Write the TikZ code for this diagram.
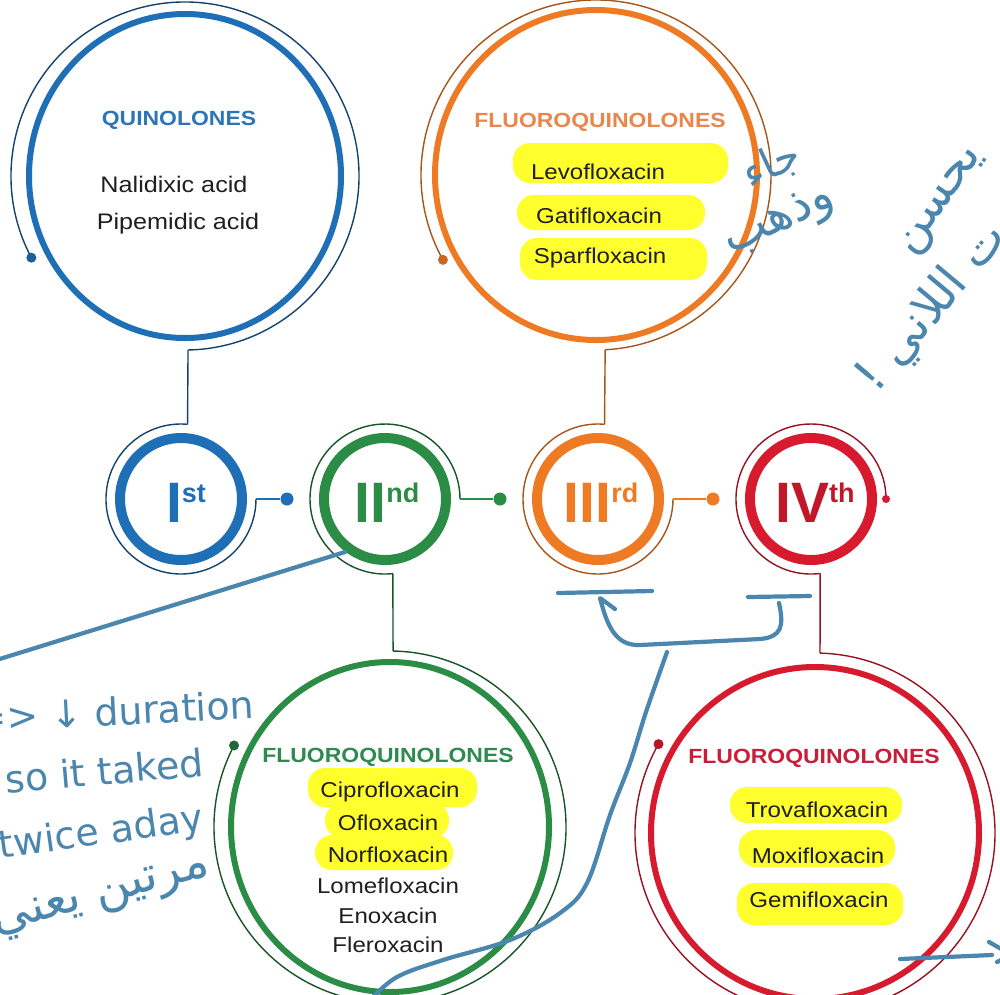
\documentclass[tikz,border=0pt]{standalone}
\usepackage{fontspec}
\setmainfont{Liberation Sans}[FakeStretch=1.12]
\newfontfamily\plainsans{Liberation Sans}
\newfontfamily\handfont{DejaVu Sans}
\newfontfamily\arabicfont[Script=Arabic]{DejaVu Sans}
\TeXXeTstate=1
\usetikzlibrary{shapes.geometric,calc}
\definecolor{qblue}{HTML}{1F6FB6}
\definecolor{qbluet}{HTML}{2C76B8}
\definecolor{qgreen}{HTML}{2A8C45}
\definecolor{qgreent}{HTML}{2F8A50}
\definecolor{qorange}{HTML}{EE7A24}
\definecolor{qoranget}{HTML}{E9864C}
\definecolor{qred}{HTML}{D81A2E}
\definecolor{qredt}{HTML}{C81E3A}
\definecolor{hl}{HTML}{FFFF2E}
\definecolor{ink}{HTML}{4A86AE}
\newcommand\supr[1]{\raisebox{20pt}{\fontsize{27}{27}\selectfont #1}}
\begin{document}
\begin{tikzpicture}[x=1pt,y=-1pt,
  ring/.style={circle,line width=10pt,minimum size=122pt,inner sep=0pt},
  bigring/.style={ellipse,line width=6pt,inner sep=0pt},
  thinring/.style={line width=1.4pt},
  joinline/.style={line width=2.6pt},
  bigdot/.style={circle,inner sep=0pt,minimum size=10pt},
  joindot/.style={circle,inner sep=0pt,minimum size=13pt},
  item/.style={font=\fontsize{21.5}{21.5}\selectfont,text=black!88,anchor=base,inner sep=0pt},
  ttl/.style={font=\bfseries\fontsize{20.5}{20.5}\selectfont,anchor=base,inner sep=0pt},
  numlab/.style={font=\plainsans\bfseries\fontsize{57}{57}\selectfont,anchor=base,inner sep=0pt},
  hlbox/.style={fill=hl,rounded corners=17pt},
  inkline/.style={draw=ink,line width=4.2pt,line cap=round,line join=round},
  inktext/.style={text=ink,font=\handfont\fontsize{38}{38}\selectfont,inner sep=0pt},
  inkar/.style={text=ink,font=\arabicfont\fontsize{48}{48}\selectfont,inner sep=0pt}]
\useasboundingbox (0,0) rectangle (1000,994);
\fill[white] (0,0) rectangle (1000,994);
\clip (0,0) rectangle (1000,994);

% highlights
\fill[hlbox] (513,143) rectangle (728,183);
\fill[hlbox] (517,195) rectangle (705,230);
\fill[hlbox] (520,238) rectangle (707,280);
\fill[hlbox] (308,768) rectangle (477,807);
\fill[hlbox] (325,803) rectangle (449,838);
\fill[hlbox] (315,835) rectangle (453,870);
\fill[hlbox] (730,787) rectangle (902,823);
\fill[hlbox] (739,830) rectangle (895,867);
\fill[hlbox] (737,883) rectangle (903,925);

% big rings
\node[bigring,draw=qblue,minimum width=312pt,minimum height=324pt] (Q) at (185,176) {};
\node[bigring,draw=qorange,minimum width=322pt,minimum height=330pt] (O) at (596,175) {};
\node[bigring,draw=qgreen,minimum width=318pt,minimum height=330pt] (G) at (390,827) {};
\node[bigring,draw=qred,minimum width=328pt,minimum height=332pt] (R) at (815,833) {};

% small rings
\node[ring,draw=qblue] (I1) at (181,499) {};
\node[ring,draw=qgreen] (I2) at (385,499) {};
\node[ring,draw=qorange] (I3) at (598,499) {};
\node[ring,draw=qred] (I4) at (811,499) {};

% thin outer rings
\draw[thinring,draw=qblue!60!black] ($(Q)+(152:174)$) coordinate (Qdot) arc[start angle=152,end angle=449,radius=174] coordinate (Qbot);
\draw[thinring,draw=qorange!70!black] ($(O)+(151:175)$) coordinate (Odot) arc[start angle=151,end angle=447,radius=175] coordinate (Obot);
\draw[thinring,draw=qgreen!60!black] ($(G)+(207.6:176)$) coordinate (Gdot) arc[start angle=207.6,end angle=-89,radius=176] coordinate (Gtop);
\draw[thinring,draw=qred!70!black] ($(R)+(209.6:180)$) coordinate (Rdot) arc[start angle=209.6,end angle=-88.4,radius=180] coordinate (Rtop);

\draw[thinring,draw=qblue!60!black] ($(I1)+(275:75)$) coordinate (I1top) arc[start angle=275,end angle=0,radius=75] coordinate (I1right);
\draw[thinring,draw=qgreen!60!black] ($(I2)+(84:75)$) coordinate (I2bot) arc[start angle=84,end angle=360,radius=75] coordinate (I2right);
\draw[thinring,draw=qorange!70!black] ($(I3)+(275:75)$) coordinate (I3top) arc[start angle=275,end angle=0,radius=75] coordinate (I3right);
\draw[thinring,draw=qred!70!black] ($(I4)+(83:75)$) coordinate (I4bot) arc[start angle=83,end angle=360,radius=75] coordinate (I4right);

% end dots
\node[bigdot,fill=qblue!85!black] (Qd) at (Qdot) {};
\node[bigdot,fill=qorange!85!black] (Od) at (Odot) {};
\node[bigdot,fill=qgreen!75!black] (Gd) at (Gdot) {};
\node[bigdot,fill=qred!85!black] (Rd) at (Rdot) {};

% vertical connectors
\draw[thinring,draw=qblue!60!black] (Qbot) -- (I1top);
\draw[thinring,draw=qorange!70!black] (Obot) -- (I3top);
\draw[thinring,draw=qgreen!60!black] (I2bot) -- (Gtop);
\draw[thinring,draw=qred!70!black] (I4bot) -- (Rtop);

% horizontal connectors
\node[joindot,fill=qblue] (D1) at (287,499) {};
\node[joindot,fill=qgreen] (D2) at (500,499) {};
\node[joindot,fill=qorange] (D3) at (713,499) {};
\node[bigdot,minimum size=8pt,fill=qred] (D4) at (I4right) {};
\draw[joinline,draw=qblue] (I1right) -- (D1);
\draw[joinline,draw=qgreen] (I2right) -- (D2);
\draw[joinline,draw=qorange] (I3right) -- (D3);

% numerals
\node[numlab,text=qblue] (N1) at (186,522) {I\supr{st}};
\node[numlab,text=qgreen] (N2) at (387,522) {II\supr{nd}};
\node[numlab,text=qorange] (N3) at (601,522) {III\supr{rd}};
\node[numlab,text=qred!90!black] (N4) at (815,522) {IV\supr{th}};

% texts
\node[ttl,text=qbluet] (Qt) at (179,125) {QUINOLONES};
\node[item,font=\fontsize{22.5}{22.5}\selectfont] (q1) at (174,192) {Nalidixic acid};
\node[item,font=\fontsize{22.5}{22.5}\selectfont] (q2) at (178,229) {Pipemidic acid};

\node[ttl,text=qoranget] (Ot) at (600,127) {FLUOROQUINOLONES};
\node[item] (o1) at (598,179) {Levofloxacin};
\node[item] (o2) at (599,223) {Gatifloxacin};
\node[item] (o3) at (600,263) {Sparfloxacin};

\node[ttl,text=qgreent] (Gt) at (388,762) {FLUOROQUINOLONES};
\node[item] (g1) at (390,797) {Ciprofloxacin};
\node[item] (g2) at (388,830) {Ofloxacin};
\node[item] (g3) at (388,862) {Norfloxacin};
\node[item] (g4) at (388,893) {Lomefloxacin};
\node[item] (g5) at (388,923) {Enoxacin};
\node[item] (g6) at (388,952) {Fleroxacin};

\node[ttl,text=qredt] (Rt) at (814,763) {FLUOROQUINOLONES};
\node[item] (r1) at (817,817) {Trovafloxacin};
\node[item] (r2) at (818,863) {Moxifloxacin};
\node[item] (r3) at (819,907) {Gemifloxacin};

% handwritten annotations
\draw[inkline] (345,552) -- (-10,662);
\draw[inkline] (558,593) -- (652,591);
\draw[inkline] (748,597) -- (810,596);
\draw[inkline] (779,603) .. controls (784,626) and (782,637) .. (760,639) -- (640,645) .. controls (615,646) and (607,625) .. (600,598) -- (615,609);
\draw[inkline] plot[smooth,tension=0.6] coordinates {(667,652) (646,712) (630,763) (610,815) (587,883) (560,913) (510,940) (443,960) (397,977) (370,1000)};
\draw[inkline] (900,959) -- (992,955);
\draw[inkline] (989,942) -- (1003,950);
\draw[inkline] (997,962) -- (1003,959);

\node[inktext,anchor=base east,rotate=3] (a1) at (255,718) {=> ↓ duration};
\node[inktext,anchor=base east,rotate=5] (a2) at (205,776) {so it taked};
\node[inktext,anchor=base east,rotate=8] (a3) at (205,830) {twice aday};
\node[inkar,rotate=15] (a4) at (102,898) {\beginR مرتين يعني\endR};
\node[inkar,rotate=55] (a6) at (944,203) {\beginR يحسن\endR};
\node[inkar,rotate=50] (a7) at (933,308) {\beginR ت اللاني !\endR};
\node[inkar,rotate=25,font=\arabicfont\fontsize{42}{42}\selectfont] (a8) at (772,165) {\beginR جاء\endR};
\node[inkar,rotate=25] (a9) at (780,222) {\beginR وذهب\endR};
\end{tikzpicture}
\end{document}
